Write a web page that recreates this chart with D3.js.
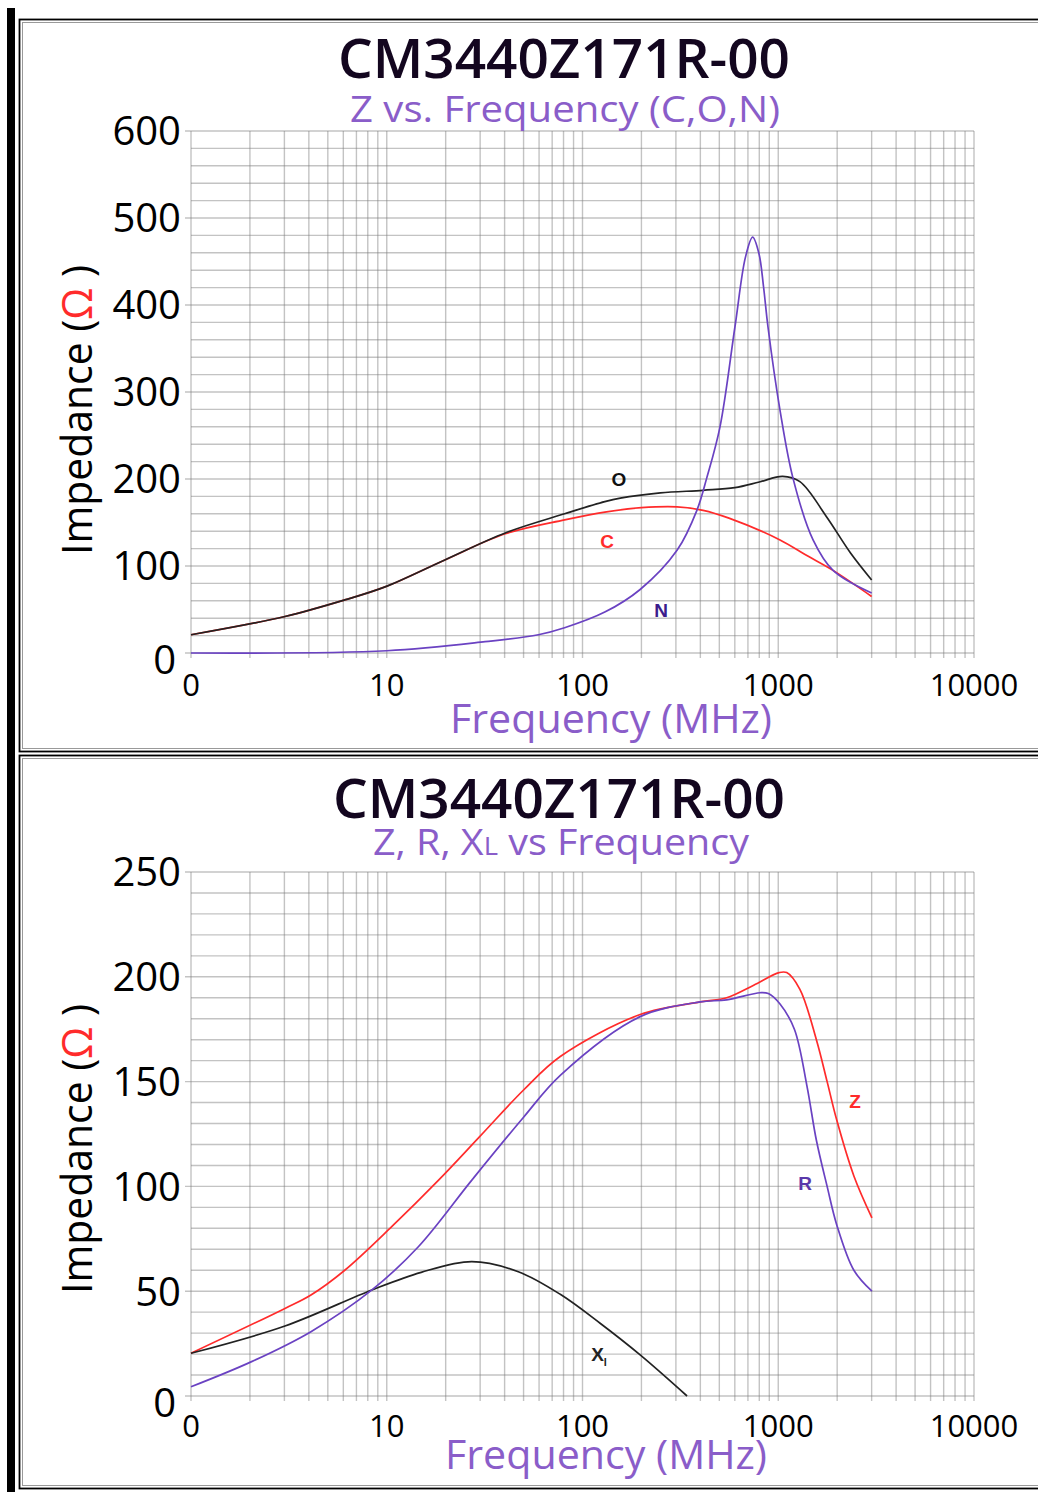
<!DOCTYPE html>
<html>
<head>
<meta charset="utf-8">
<script src="https://cdn.jsdelivr.net/npm/d3@7"></script>
<style>
body { margin: 0; background: #fff; }
text { font-family: "Open Sans", sans-serif; }
</style>
</head>
<body>
<svg width="1038" height="1492"></svg>
<script>
let svg = d3.select("svg");

// shared frequency axis (MHz), labelled like the original sheet
let freqTicks = [1, 10, 100, 1000, 10000];
let freqTickLabels = ["0", "10", "100", "1000", "10000"];
let topYTicks = [0, 100, 200, 300, 400, 500, 600];
let botYTicks = [0, 50, 100, 150, 200, 250];

// top chart: Z vs frequency (C, O, N)
let oFreq = [1, 3.02, 6.1, 9.8, 19.8, 40.3, 81, 130, 156, 250, 413, 600, 800, 1053, 1290, 1760, 2340, 3000];
let oZ    = [21, 42, 61, 76, 107, 138, 160, 174, 178, 184, 187, 190, 196.5, 203, 197, 157, 115, 84];

let cFreq = [1, 3.02, 6.1, 9.8, 19.8, 40.3, 81, 130, 200, 304, 413, 560, 1021, 1400, 1905, 3000];
let cZ    = [21, 42, 61, 76, 107, 137, 153, 162, 167, 168, 164, 155, 130, 112, 95, 65];

let nFreq = [1, 10, 31.8, 59.5, 81, 130, 197, 304, 384, 431, 504, 601, 680, 740, 797, 841, 886, 1021, 1189, 1506, 1905, 3000];
let nZ    = [0, 2.6, 13, 21, 29, 47, 73, 118, 164, 201, 260, 375, 455, 478, 459, 421, 375, 279, 201, 130, 95, 69];

// bottom chart: Z, R, XL vs frequency
let zFreq = [1, 3.02, 4.1, 6.1, 10.6, 18.4, 30, 50, 77, 197, 399, 545, 749, 1010, 1105, 1290, 1566, 1777, 1985, 2434, 3010];
let zVal  = [20.4, 41.8, 48.2, 60, 80.8, 103, 124, 146, 162, 182, 188, 190, 196, 202, 202, 194, 170, 150, 132, 105, 85];

let rFreq = [1, 2.04, 4.1, 8.4, 14.5, 27.2, 50, 77, 197, 399, 545, 808, 890, 1021, 1209, 1401, 1566, 1777, 1985, 2434, 3010];
let rVal  = [4.4, 16.4, 30.7, 50.6, 71.2, 103, 133, 153, 181, 188, 189, 192.4, 192, 187, 175, 148, 122, 100, 82, 60, 50];

let xlFreq = [1, 3.02, 8.4, 15, 27.2, 47, 77, 123, 197, 342];
let xlVal  = [20.4, 33.4, 50.6, 59, 64.1, 59.3, 48.5, 34.7, 19.6, 0];

let xLeft = 191, xRight = 974;
let gridColor = "#7a7a7a";
let purple = "#6a42c2";
let red = "#ff2b2b";
let titleColor = "#13061f";
let subColor = "#8a5dc9";

// page frame
svg.append("rect").attr("x", 7).attr("y", 8).attr("width", 8).attr("height", 1484).attr("fill", "#000");
[[19, 751], [755, 1488]].forEach(p => {
    svg.append("rect").attr("x", 19.5).attr("y", p[0] + 0.5).attr("width", 1030).attr("height", p[1] - p[0])
        .attr("fill", "none").attr("stroke", "#000").attr("stroke-width", 1.8);
    svg.append("rect").attr("x", 22.5).attr("y", p[0] + 3.5).attr("width", 1030).attr("height", p[1] - p[0] - 6)
        .attr("fill", "none").attr("stroke", "#999").attr("stroke-width", 1);
});

function drawPlot(o) {
    let x = d3.scaleLog().domain([1, 10000]).range([xLeft, xRight]);
    let y = d3.scaleLinear().domain([0, o.yMax]).range([o.y0, o.y1]);
    let g = svg.append("g");

    // log grid
    let vLines = [];
    for (let d = 1; d < 10000; d *= 10)
        for (let m = 1; m < 10; m++) vLines.push(d * m);
    vLines.push(10000);
    g.append("g").selectAll("line").data(vLines).join("line")
        .attr("x1", d => x(d)).attr("x2", d => x(d))
        .attr("y1", o.y1).attr("y2", o.y0 + 5)
        .attr("stroke", gridColor).attr("stroke-opacity", 0.45).attr("stroke-width", 1.4);
    g.append("g").selectAll("line").data(d3.range(0, o.yMax + 1, o.yStep)).join("line")
        .attr("x1", d => o.ticks.includes(d) ? xLeft - 6 : xLeft).attr("x2", xRight)
        .attr("y1", d => y(d)).attr("y2", d => y(d))
        .attr("stroke", gridColor).attr("stroke-opacity", 0.45).attr("stroke-width", 1.4);

    // tick labels
    g.append("g").selectAll("text").data(o.ticks).join("text")
        .attr("x", d => d === 0 ? 176 : 181)
        .attr("y", d => y(d) + (d === 0 ? 7 : 0))
        .attr("dy", "0.36em")
        .attr("text-anchor", "end")
        .style("font-size", "40px")
        .text(d => d);
    g.append("g").selectAll("text").data(freqTicks).join("text")
        .attr("x", d => x(d))
        .attr("y", o.y0 + o.xLabelGap)
        .attr("text-anchor", "middle")
        .style("font-size", "31px")
        .text((d, i) => freqTickLabels[i]);

    // titles
    g.append("text").attr("x", o.titleX).attr("y", o.titleY)
        .attr("textLength", 452).attr("lengthAdjust", "spacingAndGlyphs")
        .style("font-size", "54px").style("font-weight", 600).attr("fill", titleColor)
        .text("CM3440Z171R-00");
    o.subtitle(g.append("text").attr("x", o.subX).attr("y", o.subY)
        .attr("textLength", o.subW).attr("lengthAdjust", "spacingAndGlyphs")
        .style("font-size", "36px").attr("fill", subColor));
    g.append("text").attr("x", o.freqX).attr("y", o.freqY)
        .attr("textLength", 322).attr("lengthAdjust", "spacingAndGlyphs")
        .style("font-size", "40px").attr("fill", subColor)
        .text("Frequency (MHz)");
    let yt = g.append("text")
        .attr("transform", `translate(92,${o.yTitleC}) rotate(-90)`)
        .attr("text-anchor", "middle")
        .attr("textLength", 290).attr("lengthAdjust", "spacingAndGlyphs")
        .style("font-size", "42px");
    yt.append("tspan").text("Impedance (");
    yt.append("tspan").attr("fill", red).text("Ω");
    yt.append("tspan").text(" )");

    // curves
    let line = d3.line().x(d => x(d[0])).y(d => y(d[1])).curve(d3.curveCatmullRom.alpha(0.5));
    o.series.forEach(s => {
        g.append("path").datum(d3.zip(s.f, s.v))
            .attr("d", line).attr("fill", "none")
            .attr("stroke", s.color).attr("stroke-width", 1.7);
    });
    o.labels.forEach(l => {
        let t = g.append("text").attr("x", l.x).attr("y", l.y)
            .attr("text-anchor", "middle").attr("dy", "0.36em")
            .style("font-family", "'Liberation Sans', Arial, sans-serif")
            .style("font-weight", 700).style("font-size", "19px")
            .attr("fill", l.color).text(l.text);
        if (l.sub) t.append("tspan").attr("dy", 5).style("font-size", "11px").text(l.sub);
    });
}

drawPlot({
    yMax: 600, yStep: 20, y0: 653, y1: 131, ticks: topYTicks, xLabelGap: 43,
    titleX: 338, titleY: 78,
    subX: 350, subY: 122, subW: 430,
    subtitle: t => t.text("Z vs. Frequency (C,O,N)"),
    freqX: 450, freqY: 733, yTitleC: 410,
    series: [
        {f: cFreq, v: cZ, color: red},
        {f: oFreq, v: oZ, color: "#222"},
        {f: nFreq, v: nZ, color: purple}
    ],
    labels: [
        {text: "O", x: 619, y: 479, color: "#111"},
        {text: "C", x: 607, y: 541, color: red},
        {text: "N", x: 661, y: 610, color: "#3b1c8c"}
    ]
});

drawPlot({
    yMax: 250, yStep: 10, y0: 1396, y1: 872, ticks: botYTicks, xLabelGap: 41,
    titleX: 333, titleY: 818,
    subX: 373, subY: 855, subW: 376,
    subtitle: t => {
        t.append("tspan").text("Z, R, X");
        t.append("tspan").style("font-size", "25px").text("L");
        t.append("tspan").text(" vs Frequency");
    },
    freqX: 445, freqY: 1469, yTitleC: 1149,
    series: [
        {f: zFreq, v: zVal, color: red},
        {f: xlFreq, v: xlVal, color: "#222"},
        {f: rFreq, v: rVal, color: purple}
    ],
    labels: [
        {text: "Z", x: 855, y: 1101, color: red},
        {text: "R", x: 805, y: 1183, color: "#5a38aa"},
        {text: "X", x: 599, y: 1354, color: "#222", sub: "l"}
    ]
});
</script>
</body>
</html>
